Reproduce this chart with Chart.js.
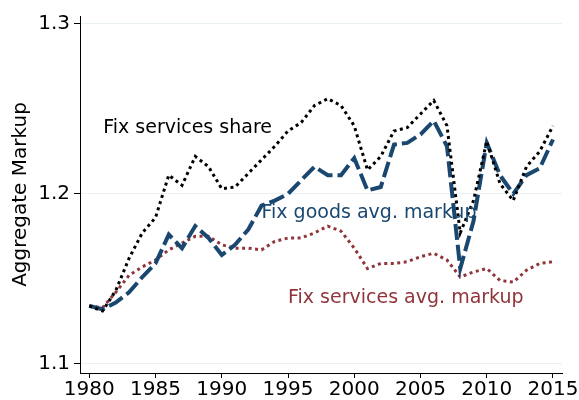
<!DOCTYPE html>
<html>
<head>
<meta charset="utf-8">
<script src="https://cdn.jsdelivr.net/npm/chart.js@4.4.1/dist/chart.umd.min.js"></script>
<style>
  html,body{margin:0;padding:0;background:#fff;}
  #wrap{width:579px;height:400px;}
</style>
</head>
<body>
<div id="wrap"><canvas id="c" width="579" height="400"></canvas></div>
<script>
const years = [1980,1981,1982,1983,1984,1985,1986,1987,1988,1989,1990,1991,1992,1993,1994,1995,1996,1997,
  1998,1999,2000,2001,2002,2003,2004,2005,2006,2007,2008,2009,2010,2011,2012,2013,2014,2015];

// Fix services share (black dotted)
const servicesShare = [1.134,1.131,1.143,1.162,1.177,1.186,1.211,1.205,1.222,1.216,1.203,1.204,1.212,1.220,1.228,1.237,
  1.242,1.252,1.256,1.252,1.240,1.214,1.222,1.237,1.239,1.247,1.255,1.240,1.177,1.196,1.231,1.206,1.196,1.216,1.225,1.240];

// Fix goods avg. markup (blue dashed)
const goodsMarkup = [1.134,1.132,1.136,1.142,1.151,1.159,1.176,1.168,1.181,1.174,1.164,1.170,1.179,1.193,1.196,1.200,
  1.208,1.216,1.211,1.211,1.221,1.202,1.204,1.229,1.230,1.235,1.243,1.228,1.156,1.184,1.230,1.211,1.200,1.211,1.215,1.232];

// Fix services avg. markup (red dotted)
const servicesMarkup = [1.134,1.133,1.142,1.152,1.157,1.161,1.167,1.171,1.175,1.175,1.170,1.168,1.168,1.167,1.172,1.174,
  1.174,1.177,1.181,1.178,1.168,1.156,1.159,1.159,1.160,1.163,1.165,1.161,1.151,1.154,1.156,1.149,1.148,1.155,1.159,1.160];

const yTicks = [1.1,1.2,1.3];
const xTicks = [1980,1985,1990,1995,2000,2005,2010,2015];

const navy = '#1a476f', maroon = '#90353b';
const FONT = 'DejaVu Sans';

const pts = arr => years.map((y,i)=>({x:y,y:arr[i]}));

// text labels, anchored in data space (left edge, baseline)
const labels = [
  {text:'Fix services share', x:1981.05, y:1.2356, color:'#000'},
  {text:'Fix goods avg. markup', x:1993.0, y:1.1858, color:navy},
  {text:'Fix services avg. markup', x:1995.0, y:1.1360, color:maroon}
];

const labelPlugin = {
  id:'lineLabels',
  afterDatasetsDraw(chart){
    const {ctx, scales:{x,y}} = chart;
    ctx.save();
    ctx.font = '19px "'+FONT+'"';
    ctx.textBaseline = 'alphabetic';
    ctx.textAlign = 'left';
    labels.forEach(l=>{
      ctx.fillStyle = l.color;
      ctx.fillText(l.text, x.getPixelForValue(l.x), y.getPixelForValue(l.y));
    });
    ctx.restore();
  }
};

new Chart(document.getElementById('c'),{
  type:'line',
  data:{datasets:[
    {label:'Fix services share', data:pts(servicesShare), borderColor:'#000', borderWidth:3,
     borderDash:[3,3.5], pointRadius:0, tension:0, order:0},
    {label:'Fix goods avg. markup', data:pts(goodsMarkup), borderColor:navy, borderWidth:4,
     borderDash:[16,5], pointRadius:0, tension:0, order:1},
    {label:'Fix services avg. markup', data:pts(servicesMarkup), borderColor:maroon, borderWidth:3,
     borderDash:[3,3.5], pointRadius:0, tension:0, order:2}
  ]},
  options:{
    responsive:false,
    animation:false,
    layout:{padding:{left:9,right:17,top:15,bottom:0}},
    plugins:{legend:{display:false},tooltip:{enabled:false}},
    scales:{
      x:{
        type:'linear', min:1979.3, max:2015.68,
        afterBuildTicks(s){ s.ticks = xTicks.map(v=>({value:v})); },
        afterFit(s){ s.height = 27; },
        grid:{drawOnChartArea:false, tickLength:5, tickColor:'#000'},
        border:{color:'#000', width:1},
        ticks:{color:'#000', font:{family:FONT,size:20}, padding:0, maxRotation:0,
               callback:v=>String(v)}
      },
      y:{
        min:1.0945, max:1.3047,
        afterBuildTicks(s){ s.ticks = yTicks.map(v=>({value:v})); },
        afterFit(s){ s.width = 71; },
        grid:{color:'#eaf1f2', tickLength:6, tickColor:'#000', lineWidth:1},
        border:{color:'#000', width:1},
        ticks:{color:'#000', font:{family:FONT,size:20}, padding:4,
               callback:v=>v.toFixed(1)},
        title:{display:true, text:'Aggregate Markup', color:'#000',
               font:{family:FONT,size:20}, padding:{top:0,bottom:5}}
      }
    }
  },
  plugins:[labelPlugin]
});
</script>
</body>
</html>
